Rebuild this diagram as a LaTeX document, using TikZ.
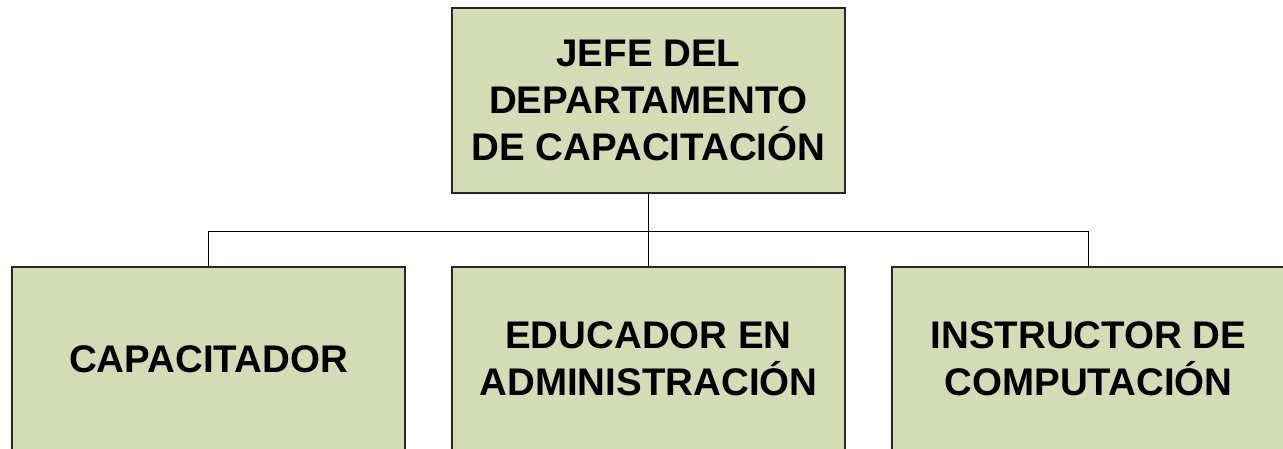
\documentclass[tikz,border=0pt]{standalone}
\usepackage{fontspec}
\setmainfont{Liberation Sans}
\usepackage{tikz}
\usetikzlibrary{arrows,positioning}
\definecolor{cpuesto}{RGB}{212,220,181}

\begin{document}
\begin{tikzpicture}[x=1pt,y=-1pt,-,thick,
  jefe node/.style={rectangle,fill=cpuesto,draw=black!85,line width=2pt,
    minimum width=393pt,minimum height=185pt,align=center,
    font=\fontsize{38.5}{46.7}\selectfont\bfseries},
  puesto node/.style={jefe node,minimum height=185pt}]
  \useasboundingbox (0,0) rectangle (1283,448);
  \clip (0,0) rectangle (1283,448);
  \node[jefe node] (1) at (648.5,100.5) {JEFE DEL\\DEPARTAMENTO\\DE CAPACITACIÓN};
  \node[puesto node] (2) at (208.5,359) {CAPACITADOR};
  \node[puesto node] (3) at (648.5,359) {EDUCADOR EN\\ADMINISTRACIÓN};
  \node[puesto node] (4) at (1088.5,359) {INSTRUCTOR DE\\COMPUTACIÓN};

  \path[draw,line width=1.7pt]
    (1) edge (3);
  \draw[line width=1.7pt] (2.north) -- ++(0,-34) -| (4.north);
\end{tikzpicture}
\end{document}
